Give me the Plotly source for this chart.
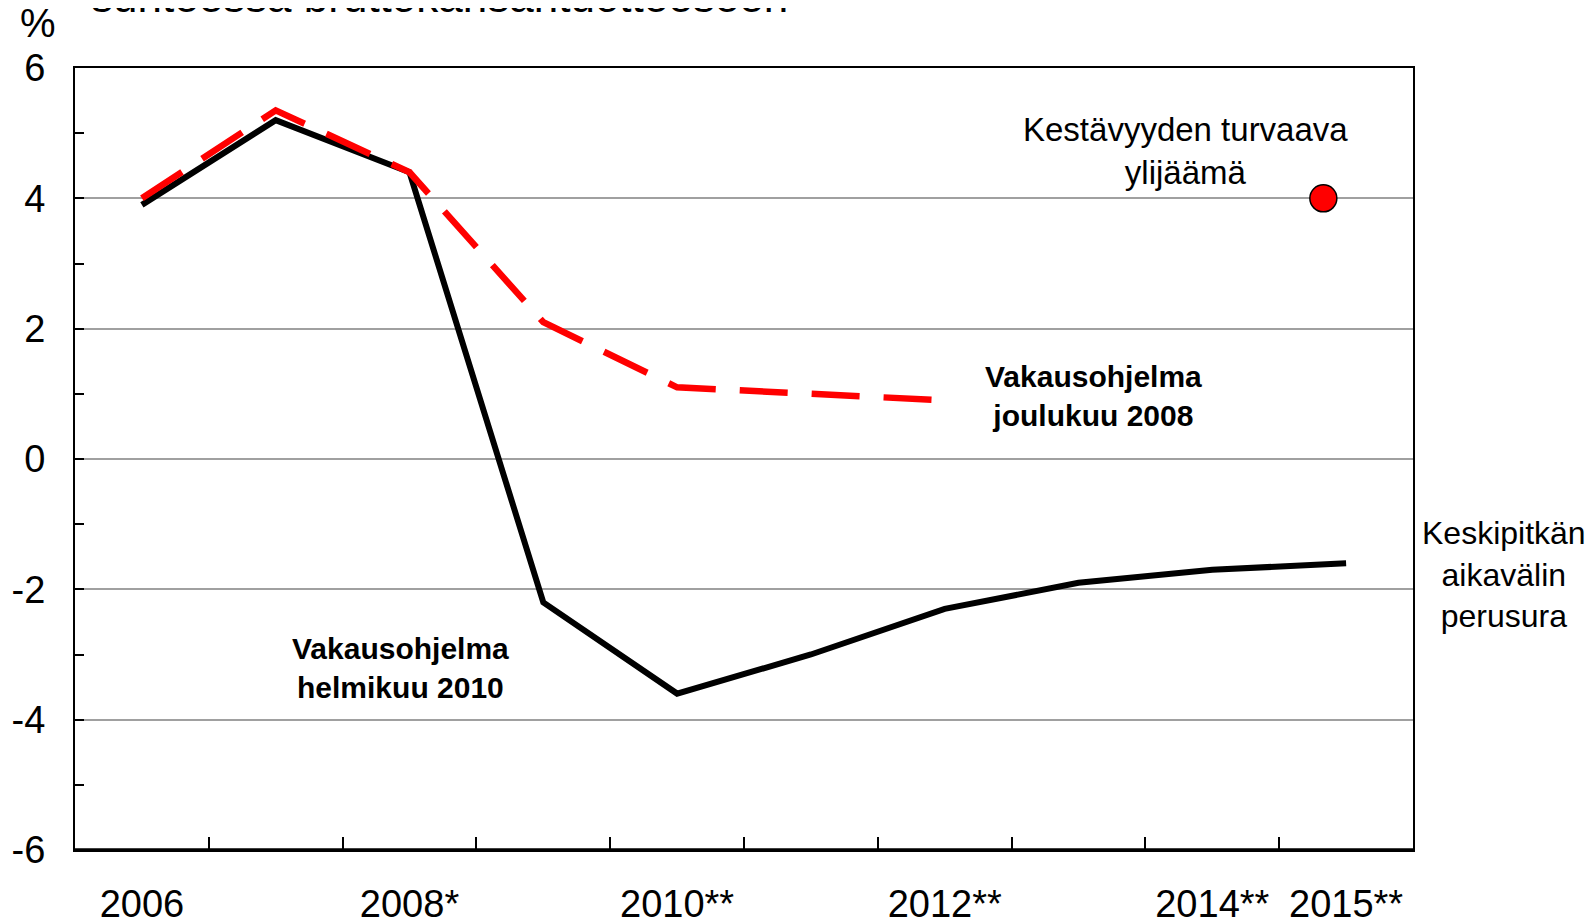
import plotly.graph_objects as go

# data
years = [2006, 2007, 2008, 2009, 2010, 2011, 2012, 2013, 2014, 2015]
feb2010 = [3.9, 5.2, 4.4, -2.2, -3.6, -3.0, -2.3, -1.9, -1.7, -1.6]
dec2008_years = [2006, 2007, 2008, 2009, 2010, 2011, 2012]
dec2008 = [4.0, 5.35, 4.4, 2.1, 1.1, 1.0, 0.9]
target_x = [2014.83]
target_y = [4.0]

tick_years = [2006, 2008, 2010, 2012, 2014, 2015]
tick_text = ["2006", "2008*", "2010**", "2012**", "2014**", "2015**"]
boundaries = [y + 0.5 for y in years[:-1]]
y_ticks = [-6, -4, -2, 0, 2, 4, 6]
y_text = ["-6", "-4", "-2", "0", "2", "4", "6"]

FONT = "Liberation Sans, Arial, sans-serif"

fig = go.Figure()
fig.add_trace(go.Scatter(x=years, y=feb2010, mode="lines",
                         line=dict(color="black", width=6), showlegend=False))
fig.add_trace(go.Scatter(x=dec2008_years, y=dec2008, mode="lines",
                         line=dict(color="#ff0000", width=6.5, dash="48px,24px"),
                         showlegend=False))
fig.add_trace(go.Scatter(x=target_x, y=target_y, mode="markers",
                         marker=dict(color="#ff0000", size=27,
                                     line=dict(color="black", width=1.5)),
                         showlegend=False))

# page body adds ~8px around the figure, so the figure is a bit smaller
fig.update_layout(
    width=1578, height=916,
    margin=dict(l=67, r=173, t=60, b=74),
    plot_bgcolor="white", paper_bgcolor="white",
    font=dict(family=FONT, color="black"),
    xaxis=dict(range=[2005.5, 2015.5], tickmode="array", tickvals=tick_years,
               ticktext=tick_text, ticks="", showgrid=False, zeroline=False,
               automargin=False,
               showline=True, linecolor="black", linewidth=2, mirror=True,
               tickfont=dict(size=38), ticklabelstandoff=19,
               minor=dict(tickmode="array", tickvals=boundaries, ticks="inside",
                          ticklen=13, tickwidth=2, tickcolor="black",
                          showgrid=False)),
    yaxis=dict(range=[-6, 6], tickmode="array", tickvals=y_ticks, ticktext=y_text,
               ticks="inside", ticklen=9, tickwidth=2, automargin=False,
               tickcolor="black", showgrid=True, gridcolor="#a0a0a0", gridwidth=2,
               zeroline=False, showline=True, linecolor="black", linewidth=2,
               mirror=True, tickfont=dict(size=38), ticklabelstandoff=20,
               minor=dict(dtick=1, ticks="inside", ticklen=9, tickwidth=1.5,
                          tickcolor="black", showgrid=False)),
)

# thicker bottom frame line
fig.add_shape(type="line", xref="paper", yref="paper", x0=0, x1=1, y0=0, y1=0,
              line=dict(color="black", width=3.5))

fig.add_annotation(text="suhteessa bruttokansantuotteeseen", xref="paper", yref="paper",
                   x=0.0105, y=1.058, xanchor="left", yanchor="bottom",
                   showarrow=False, font=dict(size=44))
fig.add_annotation(text="%", xref="paper", yref="paper", x=-0.028, y=1.058,
                   xanchor="center", yanchor="middle", showarrow=False,
                   font=dict(size=40))
fig.add_annotation(text="Kestävyyden turvaava<br>ylijäämä", x=2013.80, y=4.72,
                   showarrow=False, font=dict(size=33))
fig.add_annotation(text="<b>Vakausohjelma<br>joulukuu 2008</b>", x=2013.11, y=0.96,
                   showarrow=False, font=dict(size=30))
fig.add_annotation(text="<b>Vakausohjelma<br>helmikuu 2010</b>", x=2007.93, y=-3.20,
                   showarrow=False, font=dict(size=30))
fig.add_annotation(text="Keskipitkän<br>aikavälin<br>perusura", xref="paper", yref="paper",
                   x=1.068, y=0.3525, xanchor="center", yanchor="middle",
                   showarrow=False, font=dict(size=32))

fig.write_html("out.html")
